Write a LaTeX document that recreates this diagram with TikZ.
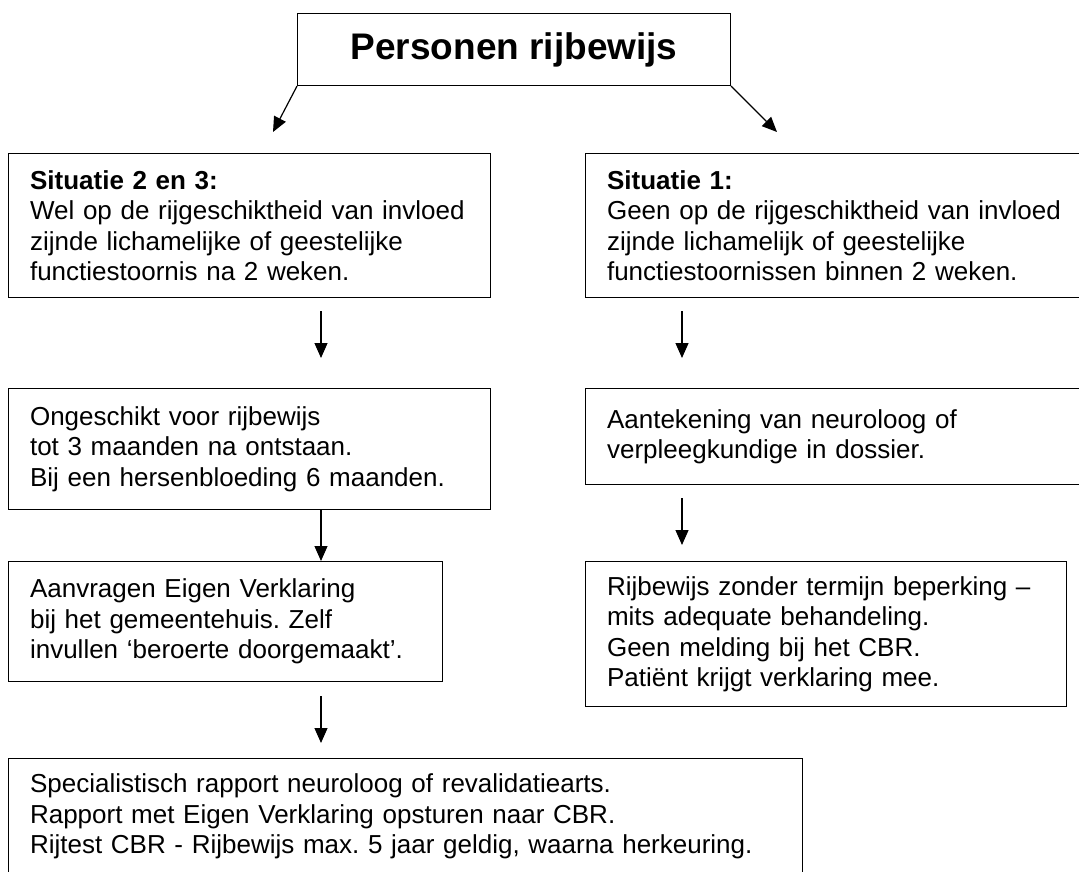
\documentclass[tikz,border=0pt]{standalone}
\usepackage{fontspec}
\setmainfont{Liberation Sans}
\usetikzlibrary{arrows.meta,calc,positioning}
\frenchspacing

\begin{document}
\begin{tikzpicture}[x=1pt, y=-1pt,
  box/.style={draw, line width=1.1pt, anchor=north west, align=left,
    inner ysep=0pt, inner xsep=21.5pt, font=\fontsize{26}{30.5}\selectfont},
  arr/.style={-{Triangle[length=15pt,width=13pt]}, line width=1.2pt}]
  \path[fill=white, use as bounding box] (0,0) rectangle (1079,872);

  % ---------- title ----------
  \node[draw, line width=1.1pt, anchor=north west, minimum width=433pt, minimum height=72pt,
    inner sep=0pt, font=\fontsize{37}{44}\selectfont\bfseries] (title) at (297,13) {Personen rijbewijs};

  % ---------- left column: situatie 2 en 3 ----------
  \node[box, text width=439pt, minimum height=144pt] (sit23) at (8,153)
    {\textbf{Situatie 2 en 3:}\\Wel op de rijgeschiktheid van invloed\\zijnde lichamelijke of geestelijke\\functiestoornis na 2 weken.};
  \node[box, text width=439pt, minimum height=121pt] (ongeschikt) at (8,388)
    {Ongeschikt voor rijbewijs\\tot 3 maanden na ontstaan.\\Bij een hersenbloeding 6 maanden.};
  \node[box, text width=391pt, minimum height=120pt] (aanvragen) at (8,561)
    {Aanvragen Eigen Verklaring\\bij het gemeentehuis. Zelf\\invullen ‘beroerte doorgemaakt’.};
  \node[box, text width=751pt, minimum height=116pt] (rapport) at (8,758)
    {Specialistisch rapport neuroloog of revalidatiearts.\\Rapport met Eigen Verklaring opsturen naar CBR.\\Rijtest CBR - Rijbewijs max. 5 jaar geldig, waarna herkeuring.};

  % ---------- right column: situatie 1 ----------
  \node[box, text width=454pt, minimum height=144pt] (sit1) at (585,153)
    {\textbf{Situatie 1:}\\Geen op de rijgeschiktheid van invloed\\zijnde lichamelijk of geestelijke\\functiestoornissen binnen 2 weken.};
  \node[box, text width=454pt, minimum height=96pt] (aantekening) at (585,388)
    {Aantekening van neuroloog of\\verpleegkundige in dossier.};
  \node[box, text width=438pt, minimum height=145pt] (zonder) at (585,561)
    {Rijbewijs zonder termijn beperking --\\mits adequate behandeling.\\Geen melding bij het CBR.\\Patiënt krijgt verklaring mee.};

  % ---------- arrows ----------
  \coordinate (colL) at (321,0);
  \coordinate (colR) at (682,0);
  \coordinate (tipL) at (273,132);
  \coordinate (tipR) at (777,132);

  \draw[arr] (title.south west) -- (tipL);
  \draw[arr] (title.south east) -- (tipR);
  \draw[arr, shorten <=13pt, shorten >=30pt] (sit23.south -| colL) -- (ongeschikt.north -| colL);
  \draw[arr] (ongeschikt.south -| colL) -- (aanvragen.north -| colL);
  \draw[arr, shorten <=14pt, shorten >=15pt] (aanvragen.south -| colL) -- (rapport.north -| colL);
  \draw[arr, shorten <=13pt, shorten >=30pt] (sit1.south -| colR) -- (aantekening.north -| colR);
  \draw[arr, shorten <=13pt, shorten >=16pt] (aantekening.south -| colR) -- (zonder.north -| colR);
\end{tikzpicture}
\end{document}
